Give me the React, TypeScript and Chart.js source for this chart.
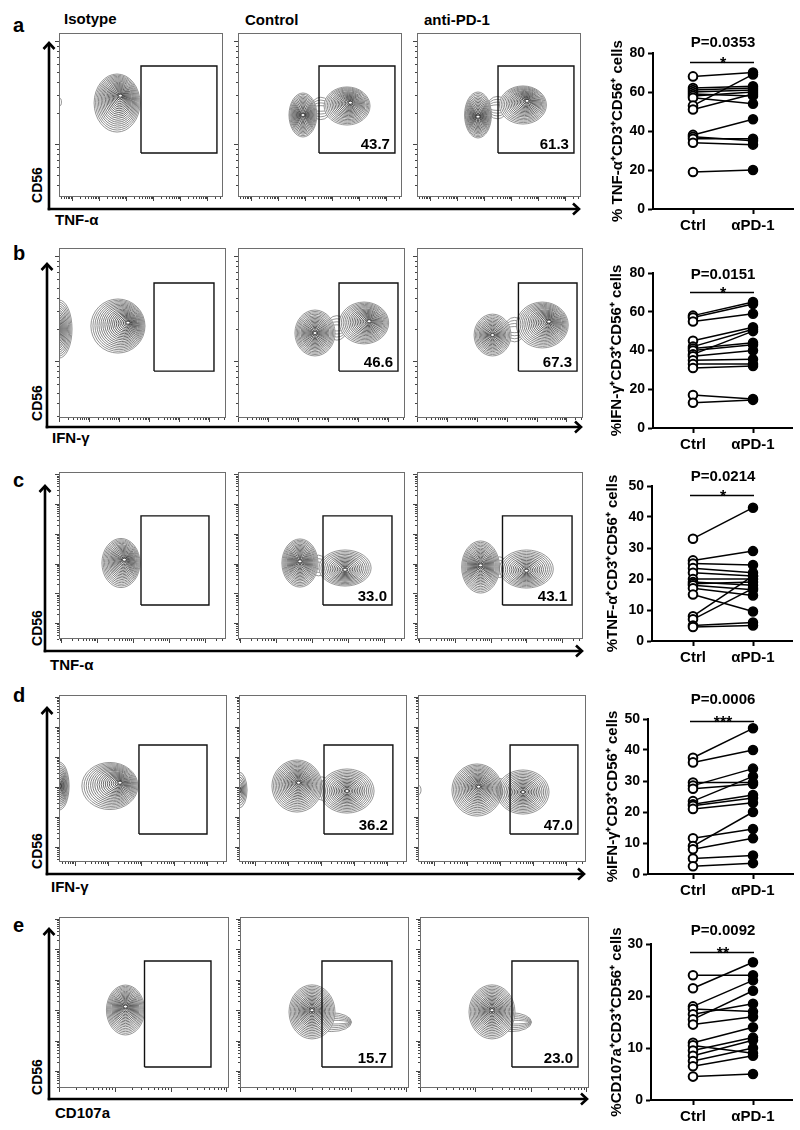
import React, { useEffect, useRef } from "react";
import { Chart, registerables } from "chart.js";

Chart.register(...registerables);

const FONT = '"Liberation Sans", Arial, Helvetica, sans-serif';
Chart.defaults.font.family = FONT;

// ---------------- text ----------------
const ROW_LETTERS = ["a", "b", "c", "d", "e"];
const COLUMN_TITLES = ["Isotype", "Control", "anti-PD-1"];
const X_MARKERS = ["TNF-α", "IFN-γ", "TNF-α", "IFN-γ", "CD107a"];
const Y_MARKER = "CD56";
const GATE_LABELS = [
  ["", "43.7", "61.3"],
  ["", "46.6", "67.3"],
  ["", "33.0", "43.1"],
  ["", "36.2", "47.0"],
  ["", "15.7", "23.0"],
];

// ---------------- paired dot plots ----------------
const GROUPS = ["Ctrl", "αPD-1"];
const Y_TITLES = [
  "% TNF-α⁺CD3⁺CD56⁺ cells",
  "%IFN-γ⁺CD3⁺CD56⁺ cells",
  "%TNF-α⁺CD3⁺CD56⁺ cells",
  "%IFN-γ⁺CD3⁺CD56⁺ cells",
  "%CD107a⁺CD3⁺CD56⁺ cells",
];
const Y_MAX = [80, 80, 50, 50, 30];
const Y_STEP = [20, 20, 10, 10, 10];
const P_VALUES = ["P=0.0353", "P=0.0151", "P=0.0214", "P=0.0006", "P=0.0092"];
const STARS = ["*", "*", "*", "***", "**"];
const P_LABEL_Y = [85, 79.2, 52.9, 56.1, 32.5];
const BAR_Y = [75.4, 70.2, 47.1, 49.4, 28.5];

const CTRL_A = [68, 62, 61, 60, 59, 58, 57, 53, 51, 38, 37, 36, 34, 19];
const PD1_A = [70, 63, 62, 61, 58, 60, 54, 69, 59, 46, 35, 36, 33, 20];
const CTRL_B = [58, 57, 55, 45, 42, 41, 40, 38, 37, 35, 33, 31, 17, 13];
const PD1_B = [65, 64, 59, 52, 51, 44, 43, 50, 40, 35.5, 33, 32, 15, 14.5];
const CTRL_C = [33, 26, 25, 23.5, 22, 20, 19, 18.5, 18, 17, 15, 8, 7, 5, 4.5];
const PD1_C = [43, 29, 24.5, 22, 21, 20, 18, 19, 16.5, 14.7, 9.5, 21, 17, 6, 5];
const CTRL_D = [37.5, 36, 29.5, 28.5, 27.5, 23.5, 22.5, 22, 21, 11.5, 9, 8, 5, 2.5];
const PD1_D = [47, 40, 29.5, 34, 29, 31.5, 25.5, 24.5, 23, 14.5, 20, 11.5, 6, 3.5];
const CTRL_E = [24, 21.5, 18, 17.5, 16.5, 15.5, 14.5, 11, 10.5, 9.5, 8.5, 7.5, 6.5, 4.5];
const PD1_E = [24, 26.5, 23, 17, 18.5, 21, 16, 14, 9, 12, 11.5, 10, 8.5, 5];
const CTRL = [CTRL_A, CTRL_B, CTRL_C, CTRL_D, CTRL_E];
const PD1 = [PD1_A, PD1_B, PD1_C, PD1_D, PD1_E];

// ---------------- flow contour panels (display channels 0-1000) ----------------
// population: [centerX, centerY, radiusX, radiusY, peakShiftX, peakShiftY, contourLevels]
const POPS_A = [
  [[354, 573, 140, 177, 20, 45, 20], [0, 579, 15, 25, 0, 0, 1]],
  [[396, 500, 85, 134, 0, 0, 18], [665, 555, 140, 116, 20, 20, 18]],
  [[372, 500, 82, 140, 0, -10, 18], [646, 561, 143, 116, 25, 25, 18]],
];
const BRIDGES_A = [[], [[505, 540, 62, 68, 0, 0, 4]], [[490, 545, 62, 68, 0, 0, 4]]];
const POPS_B = [
  [[0, 523, 78, 171, -20, 0, 16], [353, 541, 162, 159, 60, 20, 20]],
  [[461, 500, 120, 135, 0, 0, 18], [755, 559, 147, 123, 30, 10, 18]],
  [[455, 488, 111, 123, 0, 0, 16], [755, 547, 156, 135, 40, 20, 19]],
];
const BRIDGES_B = [[], [[592, 530, 62, 72, 0, 0, 4]], [[588, 520, 62, 72, 0, 0, 4]]];
const POPS_C = [
  [[371, 455, 114, 147, 20, 20, 19]],
  [[371, 455, 108, 144, 0, 10, 19], [641, 425, 156, 108, 0, -10, 15]],
  [[383, 431, 114, 156, 0, 10, 19], [659, 419, 162, 114, 0, -10, 15]],
];
const BRIDGES_C = [[], [[482, 440, 45, 62, 0, 0, 3]], [[498, 430, 45, 62, 0, 0, 3]]];
const POPS_D = [
  [[0, 455, 60, 144, 0, 0, 14], [303, 455, 167, 141, 60, 20, 19]],
  [[0, 431, 48, 108, 0, 0, 8], [345, 455, 149, 156, 10, 20, 19], [643, 425, 161, 132, 0, 0, 16]],
  [[0, 431, 18, 30, 0, 0, 1], [351, 431, 149, 156, 10, 20, 19], [625, 419, 155, 132, 0, 0, 16]],
];
const BRIDGES_D = [[], [[494, 440, 45, 70, 0, 0, 3]], [[488, 430, 45, 70, 0, 0, 3]]];
const POPS_E = [
  [[391, 456, 112, 146, 0, 20, 19]],
  [[426, 445, 136, 158, 0, 10, 19]],
  [[426, 445, 136, 158, 0, 10, 19]],
];
const BRIDGES_E = [[], [[540, 385, 120, 55, 0, 0, 5]], [[540, 385, 120, 55, 0, 0, 5]]];
const POPS = [POPS_A, POPS_B, POPS_C, POPS_D, POPS_E];
const BRIDGES = [BRIDGES_A, BRIDGES_B, BRIDGES_C, BRIDGES_D, BRIDGES_E];

// gates: [xMin, xMax, yMin, yMax]
const GATES_A = [[500, 963, 268, 799], [494, 957, 268, 799], [494, 957, 268, 799]];
const GATES_B = [[569, 928, 276, 794], [605, 958, 276, 794], [611, 964, 276, 794]];
const GATES_C = [[491, 898, 204, 737], [509, 922, 204, 737], [515, 934, 204, 737]];
const GATES_D = [[476, 881, 168, 701], [506, 916, 168, 701], [548, 952, 168, 701]];
const GATES_E = [[503, 894, 123, 743], [485, 899, 123, 743], [544, 935, 123, 743]];
const GATES = [GATES_A, GATES_B, GATES_C, GATES_D, GATES_E];

// log-decade tick marks of the cytometry axes
const X_DECADE_START = [79, 0, 13, 95, 0];
const X_DECADE_STEP = [165, 180, 215, 197, 328];
const Y_DECADE_START = [323, 335, 96, 90, 99];
const Y_DECADE_STEP = [628, 618, 178, 180, 178];
const LOG_FRACTIONS = [0.301, 0.477, 0.602, 0.699, 0.778, 0.845, 0.903, 0.954];

// ---------------- layout (pixels) ----------------
const PANEL_Y = [[33, 197], [248, 418], [472, 639], [695, 862], [917, 1088]];
const PANEL_X = [
  [[59, 223], [238, 402], [417, 581]],
  [[59, 226], [238, 405], [417, 583]],
  [[59, 226], [238, 405], [417, 583]],
  [[59, 227], [239, 407], [418, 586]],
  [[59, 229], [240, 409], [420, 589]],
];
const ARROWS = [
  { vx: 49, top: 42, hy: 209, right: 580 },
  { vx: 47, top: 263, hy: 427, right: 582 },
  { vx: 45, top: 485, hy: 651, right: 583 },
  { vx: 47, top: 707, hy: 874, right: 585 },
  { vx: 49, top: 928, hy: 1099, right: 588 },
];
const LETTER_BASE = [32, 260, 487, 702, 932];
const CD56_CENTER = [185, 403, 628, 851, 1077];
const XLABEL_BASE = [225, 443, 670, 892, 1118];
const XLABEL_LEFT = [55, 52, 50, 51, 55];
const DOT_LAYOUT = [
  { l: 653, t: 53, b: 209, r: 793, tx: 618 },
  { l: 653, t: 273, b: 428, r: 792, tx: 617 },
  { l: 652, t: 486, b: 641, r: 792, tx: 613 },
  { l: 648, t: 719, b: 874, r: 793, tx: 613 },
  { l: 651, t: 944, b: 1100, r: 792, tx: 617 },
];
const CTRL_PX = 693;
const PD1_PX = 753;

function logTicks(start: number, step: number): [number, boolean][] {
  const out: [number, boolean][] = [];
  for (let base = start - step; base <= 1000; base += step) {
    if (base >= 0) out.push([base, true]);
    for (const f of LOG_FRACTIONS) {
      const v = base + f * step;
      if (v >= 0 && v <= 1000) out.push([v, false]);
    }
  }
  return out;
}

function makeFlowPlugin(row: number, col: number) {
  const pops = POPS[row][col];
  const bridges = BRIDGES[row][col];
  const gate = GATES[row][col];
  const label = GATE_LABELS[row][col];
  const xTicks = logTicks(X_DECADE_START[row], X_DECADE_STEP[row]);
  const yTicks = logTicks(Y_DECADE_START[row], Y_DECADE_STEP[row]);
  return {
    id: "flow",
    beforeDatasetsDraw(chart: any) {
      const { ctx, chartArea: a } = chart;
      const xs = chart.scales.x;
      const ys = chart.scales.y;
      ctx.save();
      ctx.strokeStyle = "#6e6e6e";
      ctx.lineWidth = 1;
      ctx.strokeRect(a.left + 0.5, a.top + 0.5, a.right - a.left - 1, a.bottom - a.top - 1);
      ctx.strokeStyle = "#444";
      ctx.beginPath();
      xTicks.forEach(([v, major]) => {
        const px = Math.round(xs.getPixelForValue(v)) + 0.5;
        ctx.moveTo(px, a.bottom);
        ctx.lineTo(px, a.bottom + (major ? 4 : 2));
      });
      yTicks.forEach(([v, major]) => {
        const py = Math.round(ys.getPixelForValue(v)) + 0.5;
        ctx.moveTo(a.left, py);
        ctx.lineTo(a.left - (major ? 4 : 2), py);
      });
      ctx.stroke();

      ctx.beginPath();
      ctx.rect(a.left + 1, a.top + 1, a.right - a.left - 2, a.bottom - a.top - 2);
      ctx.clip();
      const toPx = (p: number[]) => {
        const cx = xs.getPixelForValue(p[0]);
        const cy = ys.getPixelForValue(p[1]);
        return {
          cx,
          cy,
          rx: Math.abs(xs.getPixelForValue(p[0] + p[2]) - cx),
          ry: Math.abs(ys.getPixelForValue(p[1] + p[3]) - cy),
          dx: xs.getPixelForValue(p[0] + p[4]) - cx,
          dy: ys.getPixelForValue(p[1] + p[5]) - cy,
          n: p[6],
        };
      };
      ctx.lineWidth = 0.85;
      const ring = (cx: number, cy: number, rx: number, ry: number, s: number) => {
        const g = Math.round(35 + 95 * s);
        ctx.strokeStyle = `rgb(${g},${g},${g})`;
        ctx.beginPath();
        ctx.ellipse(cx, cy, Math.max(rx, 0.4), Math.max(ry, 0.4), 0, 0, Math.PI * 2);
        ctx.stroke();
      };
      bridges.map(toPx).forEach((q) => {
        for (let i = q.n; i >= 1; i--) {
          const s = i / q.n;
          ring(q.cx, q.cy, q.rx * (0.85 + 0.15 * s), q.ry * s, 1);
        }
      });
      const qs = pops.map(toPx);
      ctx.fillStyle = "#fff";
      qs.forEach((q) => {
        ctx.beginPath();
        ctx.ellipse(q.cx, q.cy, q.rx, q.ry, 0, 0, Math.PI * 2);
        ctx.fill();
      });
      qs.forEach((q) => {
        for (let i = q.n; i >= 1; i--) {
          const s = Math.pow(i / q.n, 1.1);
          ring(q.cx + (1 - s) * q.dx, q.cy + (1 - s) * q.dy, q.rx * s, q.ry * s, s);
        }
        if (q.n > 4) {
          ctx.fillStyle = "#fff";
          ctx.strokeStyle = "#222";
          ctx.lineWidth = 0.7;
          ctx.beginPath();
          ctx.ellipse(q.cx + q.dx, q.cy + q.dy, 2, 1.5, 0, 0, Math.PI * 2);
          ctx.fill();
          ctx.stroke();
          ctx.lineWidth = 0.85;
        }
      });
      ctx.restore();
    },
    afterDatasetsDraw(chart: any) {
      if (!label) return;
      const { ctx } = chart;
      const xs = chart.scales.x;
      const ys = chart.scales.y;
      ctx.save();
      ctx.fillStyle = "#000";
      ctx.font = `bold 15px ${FONT}`;
      ctx.textAlign = "right";
      ctx.textBaseline = "alphabetic";
      ctx.fillText(label, xs.getPixelForValue(gate[1]) - 5, ys.getPixelForValue(gate[2]) - 4);
      ctx.restore();
    },
  };
}

const PAD_L = 8;
const PAD_T = 2;
const PAD_R = 2;
const PAD_B = 8;

function FlowPanel({ row, col }: { row: number; col: number }) {
  const ref = useRef<HTMLCanvasElement>(null);
  const [x0, x1] = PANEL_X[row][col];
  const [y0, y1] = PANEL_Y[row];
  const w = x1 - x0 + PAD_L + PAD_R;
  const h = y1 - y0 + PAD_T + PAD_B;
  useEffect(() => {
    const g = GATES[row][col];
    const gatePts = [
      { x: g[0], y: g[2] },
      { x: g[1], y: g[2] },
      { x: g[1], y: g[3] },
      { x: g[0], y: g[3] },
      { x: g[0], y: g[2] },
    ];
    const chart = new Chart(ref.current as HTMLCanvasElement, {
      type: "scatter",
      data: {
        datasets: [
          {
            data: gatePts,
            showLine: true,
            borderColor: "#111",
            borderWidth: 1.4,
            pointRadius: 0,
            tension: 0,
          } as any,
        ],
      },
      options: {
        responsive: false,
        animation: false,
        events: [],
        layout: { padding: { left: PAD_L, top: PAD_T, right: PAD_R, bottom: PAD_B } },
        scales: {
          x: { type: "linear", min: 0, max: 1000, display: false },
          y: { type: "linear", min: 0, max: 1000, display: false },
        },
        plugins: { legend: { display: false }, tooltip: { enabled: false } },
      },
      plugins: [makeFlowPlugin(row, col)],
    });
    return () => chart.destroy();
  }, [row, col]);
  return (
    <canvas
      ref={ref}
      width={w}
      height={h}
      style={{ position: "absolute", left: x0 - PAD_L, top: y0 - PAD_T, width: w, height: h }}
    />
  );
}

function DotPlot({ row }: { row: number }) {
  const ref = useRef<HTMLCanvasElement>(null);
  const L = DOT_LAYOUT[row];
  const canvasLeft = Math.round(L.tx - 9);
  const canvasTop = L.t - 30;
  const w = 800 - canvasLeft;
  const h = L.b - L.t + 60;
  useEffect(() => {
    const unit = PD1_PX - CTRL_PX;
    const xmin = -(CTRL_PX - L.l) / unit;
    const xmax = xmin + (L.r - L.l) / unit;
    const ctrl = CTRL[row];
    const pd1 = PD1[row];
    const pairSets = ctrl.map((c, i) => ({
      data: [
        { x: 0, y: c },
        { x: 1, y: pd1[i] },
      ],
      showLine: true,
      borderColor: "#000",
      borderWidth: 1.5,
      pointRadius: 0,
      clip: false,
    }));
    const sigPlugin = {
      id: "sig",
      afterDraw(chart: any) {
        const { ctx } = chart;
        const xs = chart.scales.x;
        const ys = chart.scales.y;
        const xa = xs.getPixelForValue(0);
        const xb = xs.getPixelForValue(1);
        ctx.save();
        ctx.fillStyle = "#000";
        ctx.strokeStyle = "#000";
        ctx.font = `bold 15px ${FONT}`;
        ctx.textAlign = "center";
        ctx.textBaseline = "middle";
        ctx.fillText(P_VALUES[row], (xa + xb) / 2, ys.getPixelForValue(P_LABEL_Y[row]));
        const by = Math.round(ys.getPixelForValue(BAR_Y[row])) + 0.5;
        ctx.lineWidth = 1.5;
        ctx.beginPath();
        ctx.moveTo(xa - 3, by);
        ctx.lineTo(xb + 1, by);
        ctx.stroke();
        ctx.font = `bold 16px ${FONT}`;
        ctx.textBaseline = "alphabetic";
        ctx.fillText(STARS[row], (xa + xb) / 2, by + 6);
        ctx.restore();
      },
    };
    const chart = new Chart(ref.current as HTMLCanvasElement, {
      type: "scatter",
      data: {
        datasets: [
          {
            data: pd1.map((v) => ({ x: 1, y: v })),
            pointRadius: 4.5,
            pointBackgroundColor: "#000",
            pointBorderColor: "#000",
            pointBorderWidth: 1.5,
            clip: false,
          } as any,
          {
            data: ctrl.map((v) => ({ x: 0, y: v })),
            pointRadius: 4.3,
            pointBackgroundColor: "#fff",
            pointBorderColor: "#000",
            pointBorderWidth: 2,
            clip: false,
          },
          ...pairSets,
        ],
      },
      options: {
        responsive: false,
        animation: false,
        events: [],
        layout: { padding: { left: 0, top: 30, right: 800 - L.r, bottom: 0 } },
        scales: {
          x: {
            type: "linear",
            min: xmin,
            max: xmax,
            afterBuildTicks: (s: any) => {
              s.ticks = GROUPS.map((_, i) => ({ value: i }));
            },
            afterFit: (s: any) => {
              s.height = 30;
            },
            ticks: {
              callback: (v: any) => GROUPS[Math.round(Number(v))],
              font: { size: 15, weight: "bold", family: FONT },
              color: "#000",
              padding: 3,
              maxRotation: 0,
              autoSkip: false,
            },
            grid: {
              drawOnChartArea: false,
              drawTicks: true,
              tickLength: 5,
              tickColor: "#000",
              tickWidth: 2,
              color: "#000",
            },
            border: { display: true, color: "#000", width: 2 },
          },
          y: {
            type: "linear",
            min: 0,
            max: Y_MAX[row],
            afterFit: (s: any) => {
              s.width = L.l - canvasLeft;
            },
            ticks: {
              stepSize: Y_STEP[row],
              font: { size: 14, weight: "bold", family: FONT },
              color: "#000",
              padding: 3,
            },
            grid: {
              drawOnChartArea: false,
              drawTicks: true,
              tickLength: 5,
              tickColor: "#000",
              tickWidth: 2,
              color: "#000",
            },
            border: { display: true, color: "#000", width: 2 },
            title: {
              display: true,
              text: Y_TITLES[row],
              color: "#000",
              font: { size: 15, weight: "bold", family: FONT },
              padding: { top: 0, bottom: 0 },
            },
          },
        },
        plugins: { legend: { display: false }, tooltip: { enabled: false } },
      } as any,
      plugins: [sigPlugin],
    });
    return () => chart.destroy();
  }, [row]);
  return (
    <canvas
      ref={ref}
      width={w}
      height={h}
      style={{ position: "absolute", left: canvasLeft, top: canvasTop, width: w, height: h }}
    />
  );
}

function Txt({
  x,
  base,
  size,
  children,
}: {
  x: number;
  base: number;
  size: number;
  children: React.ReactNode;
}) {
  return (
    <div
      style={{
        position: "absolute",
        left: x,
        top: base - 0.8465 * size,
        fontSize: size,
        lineHeight: `${size}px`,
        fontWeight: "bold",
        whiteSpace: "nowrap",
        color: "#000",
      }}
    >
      {children}
    </div>
  );
}

export default function App() {
  return (
    <div
      style={{
        position: "absolute",
        left: 0,
        top: 0,
        width: 800,
        height: 1130,
        background: "#fff",
        fontFamily: FONT,
        overflow: "hidden",
      }}
    >
      <svg width={800} height={1130} style={{ position: "absolute", left: 0, top: 0 }}>
        {ARROWS.map((a, i) => (
          <g key={i} stroke="#000" strokeWidth={2.6} fill="none">
            <path d={`M${a.vx} ${a.hy + 1.3} L${a.vx} ${a.top + 1}`} />
            <path d={`M${a.vx - 1.3} ${a.hy} L${a.right - 1} ${a.hy}`} />
            <polyline points={`${a.vx - 5.5},${a.top + 7} ${a.vx},${a.top + 1} ${a.vx + 5.5},${a.top + 7}`} />
            <polyline points={`${a.right - 7},${a.hy - 5.5} ${a.right - 1},${a.hy} ${a.right - 7},${a.hy + 5.5}`} />
          </g>
        ))}
      </svg>

      {ROW_LETTERS.map((l, i) => (
        <Txt key={l} x={13} base={LETTER_BASE[i]} size={20}>
          {l}
        </Txt>
      ))}
      <Txt x={64} base={24} size={15}>
        {COLUMN_TITLES[0]}
      </Txt>
      <Txt x={245} base={25} size={15}>
        {COLUMN_TITLES[1]}
      </Txt>
      <Txt x={424} base={25} size={15}>
        {COLUMN_TITLES[2]}
      </Txt>

      {X_MARKERS.map((m, i) => (
        <Txt key={i} x={XLABEL_LEFT[i]} base={XLABEL_BASE[i]} size={15}>
          {m}
        </Txt>
      ))}
      {CD56_CENTER.map((cy, i) => (
        <div
          key={i}
          style={{
            position: "absolute",
            left: 37,
            top: cy,
            transform: "translate(-50%, -50%) rotate(-90deg)",
            fontSize: 14,
            lineHeight: "14px",
            fontWeight: "bold",
            whiteSpace: "nowrap",
          }}
        >
          {Y_MARKER}
        </div>
      ))}

      {PANEL_X.map((cols, r) => cols.map((_, c) => <FlowPanel key={`${r}-${c}`} row={r} col={c} />))}
      {DOT_LAYOUT.map((_, r) => (
        <DotPlot key={r} row={r} />
      ))}
    </div>
  );
}
